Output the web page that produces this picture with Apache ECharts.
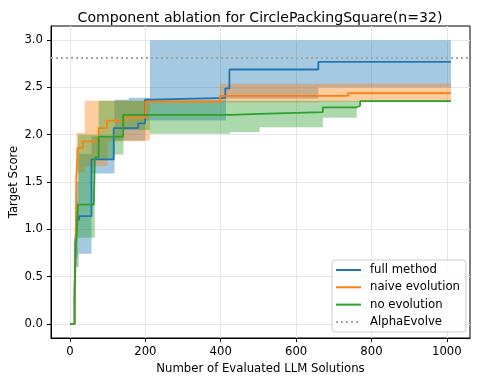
<!DOCTYPE html>
<html>
<head>
<meta charset="utf-8">
<script src="https://cdn.jsdelivr.net/npm/echarts@6/dist/echarts.min.js"></script>
<style>
  html, body { margin: 0; padding: 0; background: #fff; }
  #main { width: 478px; height: 382px; }
</style>
</head>
<body>
<div id="main"></div>
<script>
// tick labels
const xTicks = [0, 200, 400, 600, 800, 1000];
const yTicks = [0, 0.5, 1, 1.5, 2, 2.5, 3];
const alphaEvolve = 2.81;

// full method: mean step line + band
const fullX = [0, 12, 14, 18, 24, 57, 116, 181, 199, 207, 412, 423, 659, 1011];
const fullY = [0, 0.35, 0.85, 1.10, 1.14, 1.74, 2.07, 2.12, 2.37, 2.39, 2.49, 2.69, 2.77, 2.77];
const fullBandX = [0, 12, 16, 23, 57, 118, 156, 199, 212, 414, 659, 1011];
const fullLo = [0, 0.3, 0.6, 0.74, 1.59, 1.94, 1.94, 2.15, 2.15, 2.38, 2.50, 2.50];
const fullHi = [0, 0.9, 1.5, 1.80, 1.98, 2.37, 2.39, 2.39, 3.0, 3.0, 3.0, 3.0];

// naive evolution
const naiveX = [0, 13, 15, 17, 20, 34, 76, 98, 142, 200, 398, 738, 1011];
const naiveY = [0, 0.3, 0.9, 1.5, 1.86, 1.93, 2.07, 2.15, 2.18, 2.35, 2.41, 2.44, 2.44];
const naiveBandX = [0, 12, 14, 17, 39, 100, 199, 212, 398, 659, 1011];
const naiveLo = [0, 0.2, 0.6, 1.6, 1.67, 1.93, 1.94, 2.34, 2.34, 2.35, 2.35];
const naiveHi = [0, 0.6, 1.6, 2.02, 2.36, 2.36, 2.36, 2.37, 2.54, 2.54, 2.54];

// no evolution
const noevoX = [0, 12, 15, 17, 21, 63, 66, 76, 141, 425, 503, 671, 761, 770, 1011];
const noevoY = [0, 0.3, 0.84, 0.9, 1.26, 1.28, 1.76, 1.98, 2.21, 2.22, 2.24, 2.29, 2.31, 2.355, 2.355];
const noevoBandX = [0, 12, 16, 21, 57, 66, 76, 116, 142, 212, 425, 503, 671, 761, 770, 1011];
const noevoLo = [0, 0.3, 0.7, 0.91, 0.91, 1.74, 1.74, 1.79, 2.05, 2.01, 2.03, 2.08, 2.18, 2.31, 2.355, 2.355];
const noevoHi = [0, 0.9, 1.3, 2.0, 2.0, 2.0, 2.36, 2.36, 2.36, 2.36, 2.36, 2.36, 2.36, 2.36, 2.355, 2.355];

const FONT = 'DejaVu Sans';
const chart = echarts.init(document.getElementById('main'));

function zip(a, b) {
  return a.map((v, i) => [v, b[i]]);
}

// shaded band drawn as one step polygon (post-step like matplotlib)
function band(name, bx, lo, hi, fill) {
  return {
    name: name,
    type: 'custom',
    clip: true,
    z: 2,
    silent: true,
    encode: { x: 0, y: [1, 2] },
    data: bx.map((x, i) => [x, lo[i], hi[i]]),
    renderItem: function (params, api) {
      if (params.dataIndex !== 0) return null;
      const top = [], bottom = [];
      for (let i = 0; i < bx.length - 1; i++) {
        top.push(api.coord([bx[i], hi[i]]), api.coord([bx[i + 1], hi[i]]));
        bottom.push(api.coord([bx[i], lo[i]]), api.coord([bx[i + 1], lo[i]]));
      }
      return {
        type: 'polygon',
        shape: { points: top.concat(bottom.reverse()) },
        style: { fill: fill, stroke: null }
      };
    }
  };
}

function stepLine(name, xs, ys, color) {
  return {
    name: name,
    type: 'line',
    step: 'end',
    symbol: 'none',
    showSymbol: false,
    z: 3,
    data: zip(xs, ys),
    lineStyle: { color: color, width: 1.8 },
    itemStyle: { color: color }
  };
}

const option = {
  animation: false,
  backgroundColor: '#fff',
  textStyle: { fontFamily: FONT },
  title: {
    text: 'Component ablation for CirclePackingSquare(n=32)',
    left: 255,
    top: 6,
    textAlign: 'center',
    textStyle: { fontFamily: FONT, fontSize: 14.1, fontWeight: 'normal', color: '#000' }
  },
  grid: {
    left: 51, right: 8, top: 26, bottom: 44,
    containLabel: false,
    outerBoundsMode: 'none',
    show: true, borderColor: '#000', borderWidth: 1, backgroundColor: 'transparent'
  },
  legend: {
    data: ['full method', 'naive evolution', 'no evolution', 'AlphaEvolve'],
    orient: 'vertical',
    left: 332,
    top: 260,
    padding: [3, 6, 3, 3],
    itemGap: 3.3,
    itemWidth: 25,
    itemHeight: 10,
    backgroundColor: 'rgba(255,255,255,0.8)',
    borderColor: '#cccccc',
    borderWidth: 1,
    borderRadius: 3,
    itemStyle: { color: 'rgba(0,0,0,0)', borderColor: 'rgba(0,0,0,0)', borderWidth: 0, opacity: 0 },
    textStyle: { fontFamily: FONT, fontSize: 11.7, color: '#000', lineHeight: 14, padding: [0, 0, 0, 4] }
  },
  xAxis: {
    type: 'value',
    min: -50.5,
    max: 1061.5,
    name: 'Number of Evaluated LLM Solutions',
    nameLocation: 'middle',
    nameGap: 25,
    nameMoveOverlap: false,
    nameTextStyle: { fontFamily: FONT, fontSize: 11.7, color: '#000' },
    axisLine: { show: true, onZero: false, lineStyle: { color: '#000', width: 1 } },
    axisTick: { show: true, customValues: xTicks, length: 4, lineStyle: { color: '#000', width: 1 } },
    axisLabel: {
      customValues: xTicks, color: '#000', fontSize: 11.7, fontFamily: FONT, margin: 8,
      formatter: v => String(v)
    },
    splitLine: { show: true, lineStyle: { color: '#e6e6e6', width: 1 } }
  },
  yAxis: {
    type: 'value',
    min: -0.15,
    max: 3.15,
    name: 'Target Score',
    nameLocation: 'middle',
    nameGap: 31,
    nameMoveOverlap: false,
    nameRotate: 90,
    nameTextStyle: { fontFamily: FONT, fontSize: 11.7, color: '#000' },
    axisLine: { show: true, onZero: false, lineStyle: { color: '#000', width: 1 } },
    axisTick: { show: true, customValues: yTicks, length: 4, lineStyle: { color: '#000', width: 1 } },
    axisLabel: {
      customValues: yTicks, color: '#000', fontSize: 11.7, fontFamily: FONT, margin: 8,
      formatter: v => v.toFixed(1)
    },
    splitLine: { show: true, lineStyle: { color: '#e6e6e6', width: 1 } }
  },
  series: [
    band('full band', fullBandX, fullLo, fullHi, 'rgba(31,119,180,0.4)'),
    band('naive band', naiveBandX, naiveLo, naiveHi, 'rgba(255,127,14,0.4)'),
    band('noevo band', noevoBandX, noevoLo, noevoHi, 'rgba(44,160,44,0.4)'),
    stepLine('full method', fullX, fullY, '#1f77b4'),
    stepLine('naive evolution', naiveX, naiveY, '#ff7f0e'),
    stepLine('no evolution', noevoX, noevoY, '#2ca02c'),
    {
      name: 'AlphaEvolve',
      type: 'line',
      symbol: 'none',
      data: [],
      z: 4,
      lineStyle: { color: '#a5a5a5', width: 2, type: [2, 3] },
      itemStyle: { color: '#a5a5a5' },
      markLine: {
        silent: true,
        symbol: 'none',
        label: { show: false },
        lineStyle: { color: '#a5a5a5', width: 2, type: [2, 3] },
        data: [{ yAxis: alphaEvolve }]
      }
    }
  ]
};

chart.setOption(option);
</script>
</body>
</html>
